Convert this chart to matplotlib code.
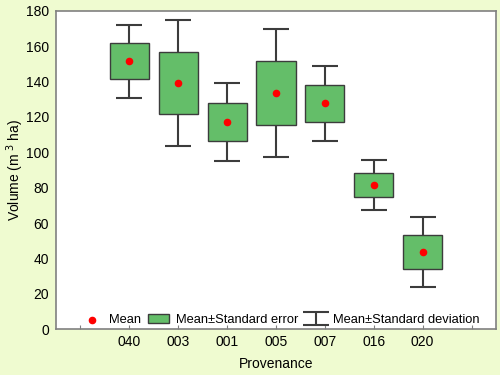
import numpy as np
import matplotlib.pyplot as plt
from matplotlib.patches import Rectangle

# ── Data ─────────────────────────────────────────────────────────────────────
provenances = ["040", "003", "001", "005", "007", "016", "020"]
means       = [151.5, 139.3, 117.3, 133.6, 127.7, 81.6, 43.8]
std_errors  = [10.2, 17.5, 10.7, 18.3, 10.5, 6.9, 9.7]
std_devs    = [20.5, 35.5, 22.1, 36.3, 21.0, 14.0, 19.8]

BG    = "#EFFBD0"
GREEN = "#64BE69"
EDGE  = "#3C3C3C"

plt.rcParams["font.family"] = ["Liberation Sans", "DejaVu Sans"]
plt.rcParams["font.size"] = 10

fig = plt.figure(figsize=(5, 3.75), dpi=100, facecolor=BG)
ax = fig.add_axes([0.112, 0.122, 0.88, 0.849])

x = np.arange(1, len(provenances) + 1)
means = np.array(means)
se = np.array(std_errors)
sd = np.array(std_devs)

# whiskers: mean ± standard deviation
err = ax.errorbar(x, means, yerr=sd, fmt="none", ecolor=EDGE, elinewidth=1.5,
                  capsize=9.5, capthick=1.5, zorder=1)

# boxes: mean ± standard error
width = 0.8
for xi, m, s in zip(x, means, se):
    ax.add_patch(Rectangle((xi - width / 2, m - s), width, 2 * s,
                           facecolor=GREEN, edgecolor=EDGE, linewidth=1.0,
                           zorder=2))
box_handle = Rectangle((0, 0), 1, 1, facecolor=GREEN, edgecolor=EDGE,
                       linewidth=1.0)

# means
pts = ax.scatter(x, means, s=20, color="red", zorder=3)

ax.set_xlim(-0.5, len(provenances) + 1.5)
ax.set_ylim(0, 180)
ax.set_xticks(np.arange(0, len(provenances) + 2))
ax.set_xticklabels([""] + provenances + [""])
ax.set_yticks(np.arange(0, 181, 20))
ax.tick_params(axis="x", direction="in", length=3, color="#808080", pad=4)
ax.tick_params(axis="y", length=0, pad=5)
for sp in ax.spines.values():
    sp.set_color("#808080")
    sp.set_linewidth(1.2)

ax.set_xlabel("Provenance", labelpad=6)
ax.set_ylabel("Volume (m$^{\\ 3}$ ha)", labelpad=0)

ax.legend([pts, box_handle, err],
          ["Mean", "Mean±Standard error", "Mean±Standard deviation"],
          loc="lower center", ncol=3, frameon=False, fontsize=9.3,
          handlelength=1.6, handletextpad=0.5, columnspacing=0.6,
          borderaxespad=0.1, bbox_to_anchor=(0.51, -0.01))

fig.savefig("out.png", dpi=100, facecolor=BG)
